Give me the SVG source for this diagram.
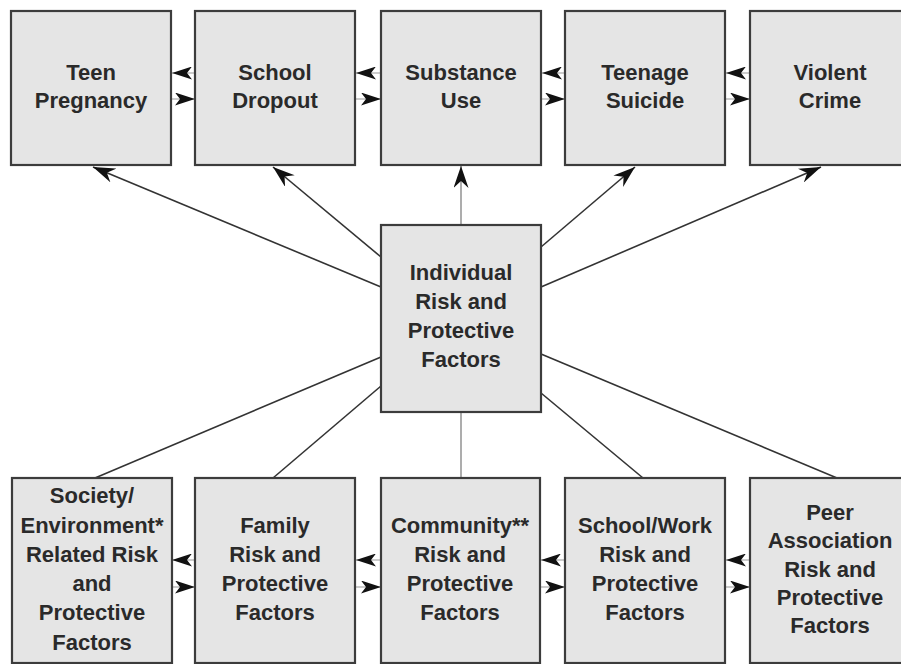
<svg xmlns="http://www.w3.org/2000/svg" width="901" height="664" viewBox="0 0 901 664">
<defs>
<marker id="ah" viewBox="0 0 22 15" refX="22" refY="7.5" markerWidth="22" markerHeight="15" markerUnits="userSpaceOnUse" orient="auto">
<path d="M0,0 L22,7.5 L0,15 L7,7.5 Z" fill="#111"/>
</marker>
<marker id="ahs" viewBox="0 0 20 13" refX="20" refY="6.5" markerWidth="20" markerHeight="13" markerUnits="userSpaceOnUse" orient="auto">
<path d="M0,0 L20,6.5 L0,13 L5,6.5 Z" fill="#111"/>
</marker>
<style>
.box{fill:#e5e5e5;stroke:#3c3c3c;stroke-width:2.2}
.t{font-family:"Liberation Sans",Arial,sans-serif;font-weight:bold;font-size:22px;fill:#2a2a2a;text-anchor:middle}
.d{stroke:#333;stroke-width:1.6;fill:none}
.g{stroke:#999;stroke-width:1.6;fill:none}
.h{stroke:#aaa;stroke-width:1.2;fill:none}
</style>
</defs>
<rect width="901" height="664" fill="#fff"/>
<g id="connectors">
<line class="d" x1="381" y1="287" x2="93" y2="167" marker-end="url(#ah)"/>
<line class="d" x1="381" y1="257" x2="273" y2="167" marker-end="url(#ah)"/>
<line class="g" x1="461" y1="225" x2="461" y2="166" marker-end="url(#ah)"/>
<line class="d" x1="541" y1="247" x2="635" y2="167" marker-end="url(#ah)"/>
<line class="d" x1="541" y1="287" x2="821" y2="167" marker-end="url(#ah)"/>
<line class="d" x1="381" y1="357" x2="95" y2="478"/>
<line class="d" x1="381" y1="386" x2="273" y2="478"/>
<line class="g" x1="461" y1="412" x2="461" y2="478"/>
<line class="d" x1="541" y1="393" x2="643" y2="478"/>
<line class="d" x1="541" y1="354" x2="837" y2="478"/>
<line class="h" x1="195" y1="73" x2="172" y2="73" marker-end="url(#ahs)"/>
<line class="h" x1="172" y1="99" x2="195" y2="99" marker-end="url(#ahs)"/>
<line class="h" x1="381" y1="73" x2="356" y2="73" marker-end="url(#ahs)"/>
<line class="h" x1="356" y1="99" x2="381" y2="99" marker-end="url(#ahs)"/>
<line class="h" x1="565" y1="73" x2="542" y2="73" marker-end="url(#ahs)"/>
<line class="h" x1="542" y1="99" x2="565" y2="99" marker-end="url(#ahs)"/>
<line class="h" x1="750" y1="73" x2="726" y2="73" marker-end="url(#ahs)"/>
<line class="h" x1="726" y1="99" x2="750" y2="99" marker-end="url(#ahs)"/>
<line class="h" x1="195" y1="560" x2="172" y2="560" marker-end="url(#ahs)"/>
<line class="h" x1="172" y1="587" x2="195" y2="587" marker-end="url(#ahs)"/>
<line class="h" x1="381" y1="560" x2="356" y2="560" marker-end="url(#ahs)"/>
<line class="h" x1="356" y1="587" x2="381" y2="587" marker-end="url(#ahs)"/>
<line class="h" x1="565" y1="560" x2="541" y2="560" marker-end="url(#ahs)"/>
<line class="h" x1="541" y1="587" x2="565" y2="587" marker-end="url(#ahs)"/>
<line class="h" x1="750" y1="560" x2="726" y2="560" marker-end="url(#ahs)"/>
<line class="h" x1="726" y1="587" x2="750" y2="587" marker-end="url(#ahs)"/>
</g>
<g id="teen-pregnancy">
<rect class="box" x="11" y="11" width="160" height="154"/>
<text class="t" x="91" y="80">Teen</text>
<text class="t" x="91" y="108">Pregnancy</text>
</g>
<g id="school-dropout">
<rect class="box" x="195" y="11" width="160" height="154"/>
<text class="t" x="275" y="80">School</text>
<text class="t" x="275" y="108">Dropout</text>
</g>
<g id="substance-use">
<rect class="box" x="381" y="11" width="160" height="154"/>
<text class="t" x="461" y="80">Substance</text>
<text class="t" x="461" y="108">Use</text>
</g>
<g id="teenage-suicide">
<rect class="box" x="565" y="11" width="160" height="154"/>
<text class="t" x="645" y="80">Teenage</text>
<text class="t" x="645" y="108">Suicide</text>
</g>
<g id="violent-crime">
<rect class="box" x="750" y="11" width="162" height="154"/>
<text class="t" x="830" y="80">Violent</text>
<text class="t" x="830" y="108">Crime</text>
</g>
<g id="individual">
<rect class="box" x="381" y="225" width="160" height="187"/>
<text class="t" x="461" y="280">Individual</text>
<text class="t" x="461" y="309">Risk and</text>
<text class="t" x="461" y="338">Protective</text>
<text class="t" x="461" y="367">Factors</text>
</g>
<g id="society">
<rect class="box" x="12" y="478" width="160" height="185"/>
<text class="t" x="92" y="503">Society/</text>
<text class="t" x="92" y="533">Environment*</text>
<text class="t" x="92" y="562">Related Risk</text>
<text class="t" x="92" y="591">and</text>
<text class="t" x="92" y="620">Protective</text>
<text class="t" x="92" y="650">Factors</text>
</g>
<g id="family">
<rect class="box" x="195" y="478" width="160" height="185"/>
<text class="t" x="275" y="533">Family</text>
<text class="t" x="275" y="562">Risk and</text>
<text class="t" x="275" y="591">Protective</text>
<text class="t" x="275" y="620">Factors</text>
</g>
<g id="community">
<rect class="box" x="381" y="478" width="159" height="185"/>
<text class="t" x="460" y="533">Community**</text>
<text class="t" x="460" y="562">Risk and</text>
<text class="t" x="460" y="591">Protective</text>
<text class="t" x="460" y="620">Factors</text>
</g>
<g id="school-work">
<rect class="box" x="565" y="478" width="160" height="185"/>
<text class="t" x="645" y="533">School/Work</text>
<text class="t" x="645" y="562">Risk and</text>
<text class="t" x="645" y="591">Protective</text>
<text class="t" x="645" y="620">Factors</text>
</g>
<g id="peer-association">
<rect class="box" x="750" y="478" width="162" height="185"/>
<text class="t" x="830" y="520">Peer</text>
<text class="t" x="830" y="548">Association</text>
<text class="t" x="830" y="577">Risk and</text>
<text class="t" x="830" y="605">Protective</text>
<text class="t" x="830" y="633">Factors</text>
</g>
</svg>
